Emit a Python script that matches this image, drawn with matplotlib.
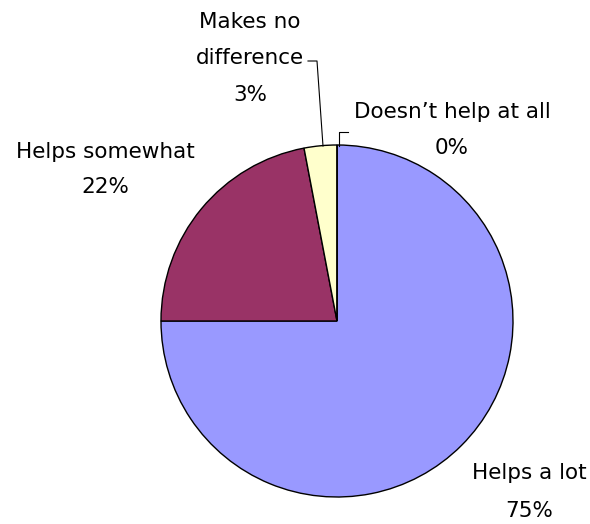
import matplotlib.pyplot as plt

# survey answers, clockwise from the top
labels = ['Helps a lot', 'Helps somewhat', 'Makes no difference', 'Doesn\u2019t help at all']
values = [75, 22, 3, 0]
colors = ['#9999FF', '#993366', '#FFFFCC', '#FFFFFF']

plt.rcParams['font.family'] = ['DejaVu Sans']

fig = plt.figure(figsize=(5.9, 5.24), dpi=100)
ax = fig.add_axes([0, 0, 1, 1])
ax.set_xlim(0, 590)
ax.set_ylim(524, 0)
ax.set_aspect('equal')
ax.axis('off')

cx, cy, r = 337, 321, 176
ax.pie(values, colors=colors, startangle=90, counterclock=False,
       center=(cx, -cy), radius=r,
       wedgeprops={'edgecolor': 'black', 'linewidth': 1.0})
# pie draws in y-up coords, flip it back into the pixel frame
for p in ax.patches:
    p.set_transform(plt.matplotlib.transforms.Affine2D().scale(1, -1) + ax.transData)
ax.set_xlim(0, 590)
ax.set_ylim(524, 0)

fs = 15.5
# label text: name lines then percentage, positions in pixels
label_pos = {
    'Helps a lot': (529, [473], 511),
    'Helps somewhat': (105, [152], 187),
    'Makes no difference': (250, [22, 58], 95),
    'Doesn\u2019t help at all': (452, [112], 148),
}
name_lines = {
    'Makes no difference': ['Makes no', 'difference'],
}
for lab, val in zip(labels, values):
    x, ys, yp = label_pos[lab]
    lines = name_lines.get(lab, [lab])
    for ln, y in zip(lines, ys):
        ax.text(x, y, ln, ha='center', va='center', fontsize=fs)
    ax.text(x, yp, '%d%%' % val, ha='center', va='center', fontsize=fs)

# leader lines for the small slices
ax.plot([308, 317, 323], [61, 61, 146], color='black', lw=0.8)
ax.plot([339, 339, 348], [146, 132, 132], color='black', lw=0.8)

fig.savefig('out.png', dpi=100)
